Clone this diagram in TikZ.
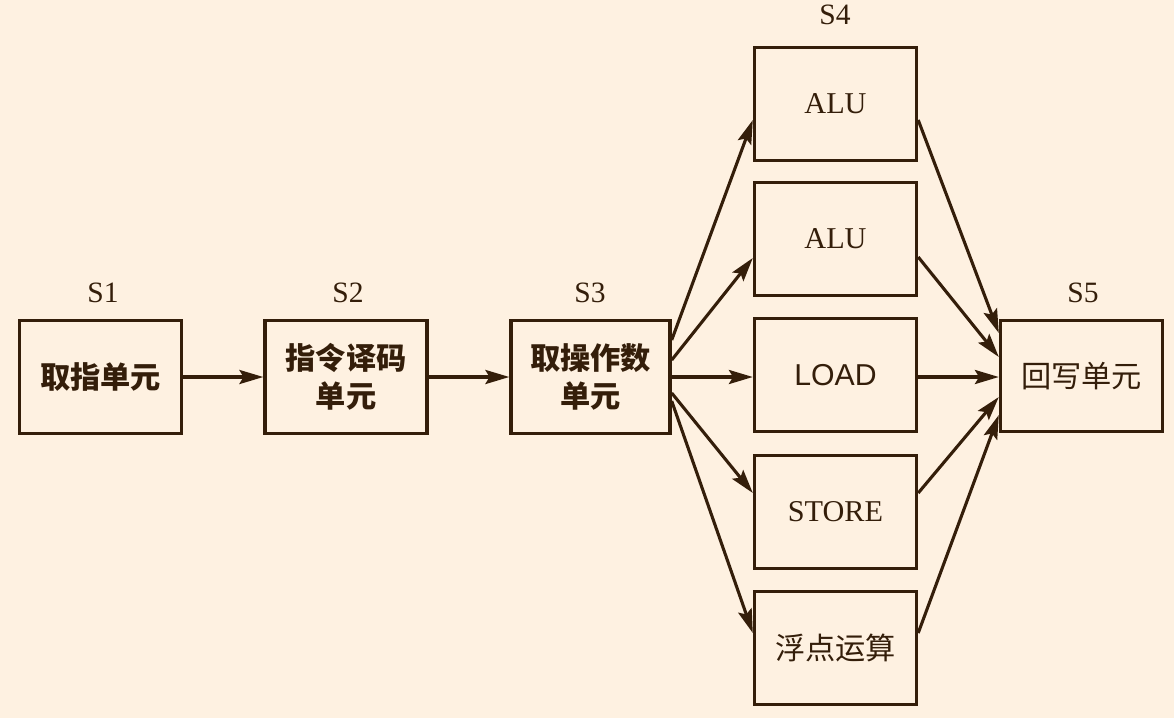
\documentclass[tikz,border=0pt]{standalone}
\usepackage{fontspec}
\setmainfont{Liberation Serif}
\newfontfamily\cjk{Noto Sans CJK SC}
\newfontfamily\sansload{Liberation Sans}
\usetikzlibrary{arrows.meta}
\definecolor{bgcol}{RGB}{254,241,225}
\definecolor{ink}{RGB}{52,30,10}

\begin{document}
\begin{tikzpicture}[x=0.025cm, y=-0.025cm,
  unit/.style={draw=ink, line width=2.4pt, minimum width=4.05cm, minimum height=2.83cm,
    inner sep=0pt, text=ink, align=center, font=\fontsize{21.5}{27}\selectfont},
  stagelab/.style={text=ink, font=\fontsize{21}{22}\selectfont},
  flow/.style={draw=ink, line width=2.2pt, -{Stealth[length=17pt, width=10pt, inset=3pt]}}]
  \fill[bgcol] (0,0) rectangle (1174,718);
  \useasboundingbox (0,0) rectangle (1174,718);
  % pipeline stages
  \node[unit] (s1) at (100.5,377) {\cjk\bfseries 取指单元};
  \node[unit] (s2) at (346,377) {\cjk\bfseries 指令译码\\\cjk\bfseries 单元};
  \node[unit, minimum width=3.975cm] (s3) at (590.5,377) {\cjk\bfseries 取操作数\\\cjk\bfseries 单元};
  \node[unit] (alu1) at (835.5,104) {ALU};
  \node[unit] (alu2) at (835.5,239) {ALU};
  \node[unit] (load) at (835.5,375) {\sansload\fontsize{21.5}{22}\selectfont LOAD};
  \node[unit] (store) at (835.5,512) {STORE};
  \node[unit] (fpu) at (835.5,648) {\cjk 浮点运算};
  \node[unit, minimum height=2.78cm] (s5) at (1081.5,376) {\cjk 回写单元};
  % stage labels
  \node[stagelab] (lab1) at (103,293) {S1};
  \node[stagelab] (lab2) at (348,293) {S2};
  \node[stagelab] (lab3) at (590,293) {S3};
  \node[stagelab] (lab4) at (835,15) {S4};
  \node[stagelab] (lab5) at (1083,293) {S5};
  % connections
  \draw[flow] (s1.east) -- (s2.west);
  \draw[flow] (s2.east) -- (s3.west);
  \draw[flow] ([yshift=0.925cm]s3.east) -- ([yshift=-0.4cm]alu1.west);
  \draw[flow] ([yshift=0.425cm]s3.east) -- ([yshift=-0.475cm]alu2.west);
  \draw[flow] (s3.east) -- (load.west |- s3.east);
  \draw[flow] ([yshift=-0.4cm]s3.east) -- ([yshift=0.475cm]store.west);
  \draw[flow] ([yshift=-0.6cm]s3.east) -- ([yshift=0.375cm]fpu.west);
  \draw[flow] ([yshift=-0.4cm]alu1.east) -- ([yshift=1.075cm]s5.west);
  \draw[flow] ([yshift=-0.45cm]alu2.east) -- ([yshift=0.475cm]s5.west);
  \draw[flow] (load.east |- s3.east) -- (s5.west |- s3.east);
  \draw[flow] ([yshift=0.475cm]store.east) -- ([yshift=-0.525cm]s5.west);
  \draw[flow] ([yshift=0.375cm]fpu.east) -- ([yshift=-0.975cm]s5.west);
\end{tikzpicture}
\end{document}
